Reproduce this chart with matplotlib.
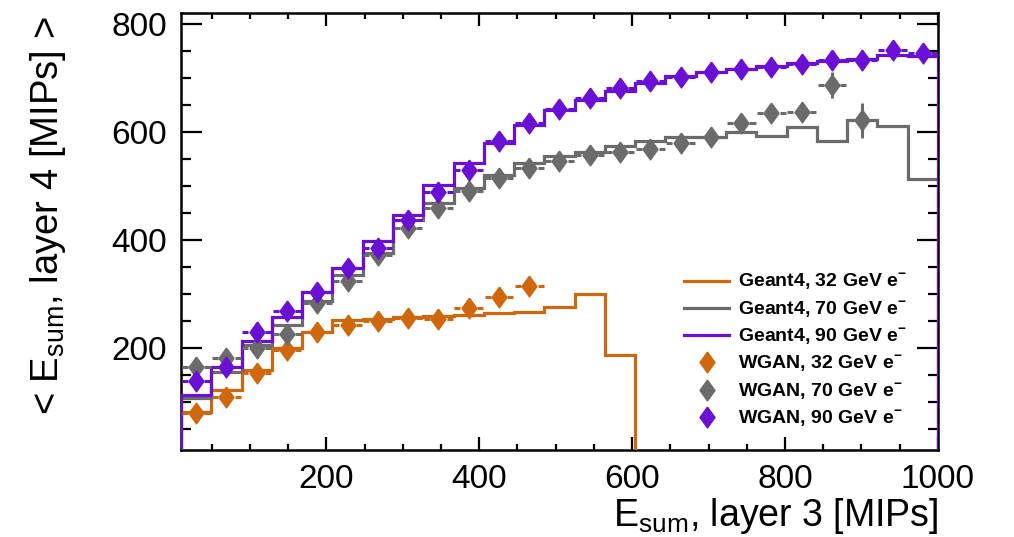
import numpy as np
import matplotlib.pyplot as plt
from matplotlib.lines import Line2D
from matplotlib.ticker import MultipleLocator

plt.rcParams['font.family'] = ['Liberation Sans', 'DejaVu Sans']
plt.rcParams['mathtext.fontset'] = 'custom'
plt.rcParams['mathtext.rm'] = 'Liberation Sans'
plt.rcParams['mathtext.bf'] = 'Liberation Sans:bold'

# layer 3 energy sum binning [MIPs]
bin_edges = np.linspace(10, 1000, 26)

# Geant4 mean layer-4 energy per bin
g4_32 = [81, 122, 159, 199, 230, 252, 254, 257, 259, 261, 265, 267, 275,
         300, 187, 0, 0, 0, 0, 0, 0, 0, 0, 0, 0]
g4_70 = [107, 156, 206, 243, 286, 335, 375, 437, 468, 496, 520, 542, 556,
         562, 574, 582, 591, 591, 599, 593, 609, 582, 622, 610, 512]
g4_90 = [112, 164, 213, 258, 304, 348, 397, 446, 502, 542, 579, 613, 641,
         659, 676, 691, 704, 710, 716, 721, 727, 731, 734, 742, 741]

# WGAN mean layer-4 energy per bin (only filled bins)
wgan_32 = [79, 110, 153, 196, 230, 243, 249, 256, 254, 273, 295, 314]
wgan_70 = [165, 181, 199, 225, 283, 323, 372, 422, 459, 491, 514, 533, 545,
           557, 562, 568, 579, 590, 617, 634, 636, 687, 621]
wgan_70_err = [2, 2, 2, 2, 2, 2, 2, 2, 2, 2, 2, 3, 3,
               3, 3, 4, 4, 5, 6, 8, 10, 24, 32]
wgan_90 = [138, 165, 230, 268, 304, 348, 385, 437, 489, 530, 582, 616, 642,
           662, 681, 694, 702, 710, 716, 719, 725, 732, 732, 751, 746]

c32 = '#cf670c'
c70 = '#6b6b6b'
c90 = '#6a0fd4'
diamond = [(0, 1), (0.72, 0), (0, -1), (-0.72, 0), (0, 1)]

fig = plt.figure(figsize=(10.14, 5.37), dpi=100)
ax = fig.add_axes([0.1785, 0.162, 0.7465, 0.814])

for vals, col in [(g4_32, c32), (g4_70, c70), (g4_90, c90)]:
    ax.stairs(vals, bin_edges, baseline=0, color=col, lw=2.3, zorder=3)


def draw_points(vals, col, err=None):
    vals = np.array(vals, dtype=float)
    n = len(vals)
    lo = bin_edges[:n]
    hi = bin_edges[1:n + 1]
    mid = (lo + hi) / 2
    hw = (hi - lo) / 2
    # x error drawn as short pieces left and right of the marker
    ax.hlines(vals, lo + 0.05 * hw, mid - 0.55 * hw, color=col, lw=2.2, zorder=4)
    ax.hlines(vals, mid + 0.55 * hw, hi - 0.05 * hw, color=col, lw=2.2, zorder=4)
    if err is not None:
        err = np.array(err, dtype=float)
        ax.vlines(mid, vals - err, vals + err, color=col, lw=2.2, zorder=4)
    ax.plot(mid, vals, ls='none', marker=diamond, ms=15, color=col,
            mec=col, zorder=5)


draw_points(wgan_32, c32)
draw_points(wgan_70, c70, wgan_70_err)
draw_points(wgan_90, c90)

ax.set_xlim(10, 1000)
ax.set_ylim(11, 820)
ax.xaxis.set_minor_locator(MultipleLocator(50))
ax.yaxis.set_minor_locator(MultipleLocator(50))
ax.set_xticks([200, 400, 600, 800, 1000])
ax.set_yticks([200, 400, 600, 800])
ax.tick_params(which='both', direction='in', top=True, right=True, width=1.6,
               labelsize=24, colors='black')
ax.tick_params(axis='x', which='major', length=9.5, pad=10)
ax.tick_params(axis='x', which='minor', length=4.5)
ax.tick_params(axis='y', which='major', length=15, pad=10)
ax.tick_params(axis='y', which='minor', length=7.5)
for sp in ax.spines.values():
    sp.set_linewidth(1.8)

fig.text(938 / 1014, 1 - 526.5 / 537, r'E$_{\mathrm{sum}}$, layer 3 [MIPs]',
         ha='right', va='baseline', fontsize=27)
fig.text(48 / 1014, 1 - 16 / 537, r'< E$_{\mathrm{sum}}$, layer 4 [MIPs] >',
         ha='center', va='top', rotation=90, fontsize=27.5)

handles = [
    Line2D([], [], color=c32, lw=2.3),
    Line2D([], [], color=c70, lw=2.3),
    Line2D([], [], color=c90, lw=2.3),
    Line2D([], [], ls='none', marker=diamond, ms=15, color=c32),
    Line2D([], [], ls='none', marker=diamond, ms=15, color=c70),
    Line2D([], [], ls='none', marker=diamond, ms=15, color=c90),
]
labels = [r'Geant4, 32 GeV e$^{\mathbf{-}}$', r'Geant4, 70 GeV e$^{\mathbf{-}}$',
          r'Geant4, 90 GeV e$^{\mathbf{-}}$', r'WGAN, 32 GeV e$^{\mathbf{-}}$',
          r'WGAN, 70 GeV e$^{\mathbf{-}}$', r'WGAN, 90 GeV e$^{\mathbf{-}}$']
ax.legend(handles, labels, loc='upper left', bbox_to_anchor=(0.665, 0.407),
          frameon=False, handlelength=2.3, handletextpad=0.45,
          labelspacing=0.36, borderpad=0, borderaxespad=0,
          prop={'size': 14, 'weight': 'bold'})

fig.savefig('out.png', dpi=100)
